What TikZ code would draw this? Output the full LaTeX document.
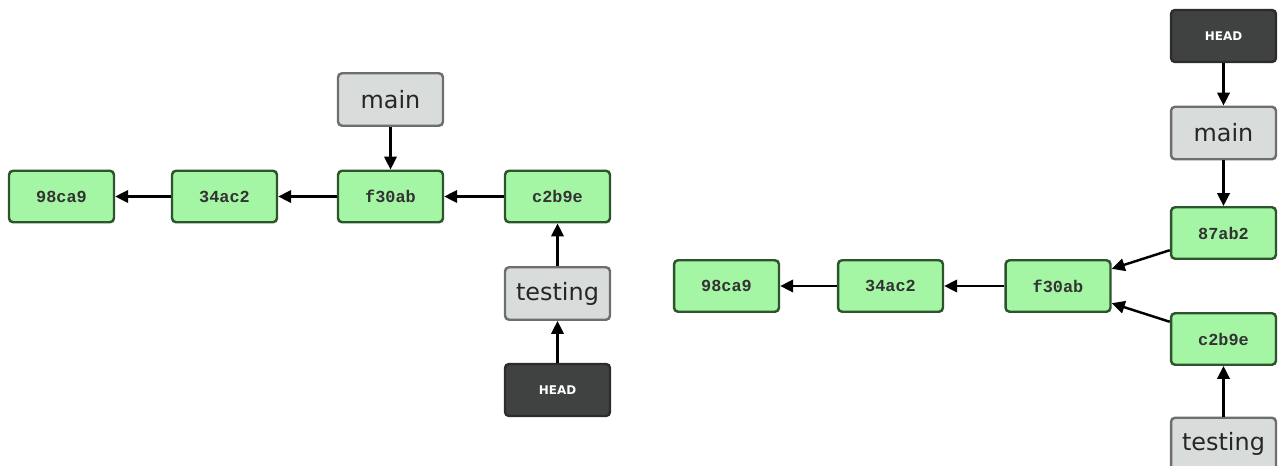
\documentclass[tikz,border=0pt]{standalone}
\usepackage{fontspec}
\setmainfont{DejaVu Sans}
\newfontfamily\commitfont{Liberation Mono}
\usetikzlibrary{arrows.meta}
\definecolor{commitfill}{RGB}{164,246,164}
\definecolor{commitline}{RGB}{46,84,46}
\definecolor{branchfill}{RGB}{216,220,218}
\definecolor{branchline}{RGB}{110,110,110}
\definecolor{headfill}{RGB}{64,66,65}
\definecolor{headline}{RGB}{44,44,44}
\tikzset{
  commit/.style={draw=commitline, fill=commitfill, line width=1.4pt, rounded corners=2.3pt,
    minimum width=2.1cm, minimum height=1.03cm, inner sep=0pt,
    font=\commitfont\bfseries\fontsize{9.6}{10}\selectfont, text=black!80},
  branch/.style={draw=branchline, fill=branchfill, line width=1.4pt, rounded corners=2.3pt,
    minimum width=2.1cm, minimum height=1.05cm, inner sep=0pt,
    font=\fontsize{13.6}{14}\selectfont, text=black!85},
  headref/.style={draw=headline, fill=headfill, line width=1.4pt, rounded corners=2.3pt,
    minimum width=2.1cm, minimum height=1.04cm, inner sep=0pt,
    font=\bfseries\fontsize{6.8}{7}\selectfont, text=white},
  link/.style={-{Triangle[length=0.26cm,width=0.25cm]}, line width=1.4pt}
}
\begin{document}
\begin{tikzpicture}[x=0.02cm,y=-0.02cm]
      \useasboundingbox (0,0) rectangle (1280,466);
      % left: HEAD on testing
      \node[commit] (a98) at (61.5,196.5) {98ca9};
      \node[commit] (a34) at (224.5,196.5) {34ac2};
      \node[commit] (af30) at (390.5,196.5) {f30ab};
      \node[commit] (ac2) at (557.5,196.5) {c2b9e};
      \node[branch] (amain) at (390.5,99.5) {main};
      \node[branch] (atest) at (557.5,293.5) {testing};
      \node[headref] (ahead) at (557.5,390) {HEAD};
      \draw [link] (a34) -- (a98);
      \draw [link] (af30) -- (a34);
      \draw [link] (ac2) -- (af30);
      \draw [link] (amain) -- (af30);
      \draw [link] (atest) -- (ac2);
      \draw [link] (ahead) -- (atest);
      % right: HEAD on main, history split
      \node[commit] (b98) at (726.5,286) {98ca9};
      \node[commit] (b34) at (890.5,286) {34ac2};
      \node[commit] (bf30) at (1058,286) {f30ab};
      \node[commit] (b87) at (1223.5,233) {87ab2};
      \node[commit] (bc2) at (1223.5,339) {c2b9e};
      \node[headref] (bhead) at (1223.5,36) {HEAD};
      \node[branch] (bmain) at (1223.5,133) {main};
      \node[branch] (btest) at (1223.5,444) {testing};
      \draw [link] (b34) -- (b98);
      \draw [link] (bf30) -- (b34);
      \draw [link] (b87) -- (bf30);
      \draw [link] (bc2) -- (bf30);
      \draw [link] (bhead) -- (bmain);
      \draw [link] (bmain) -- (b87);
      \draw [link] (btest) -- (bc2);
    \end{tikzpicture}
\end{document}
